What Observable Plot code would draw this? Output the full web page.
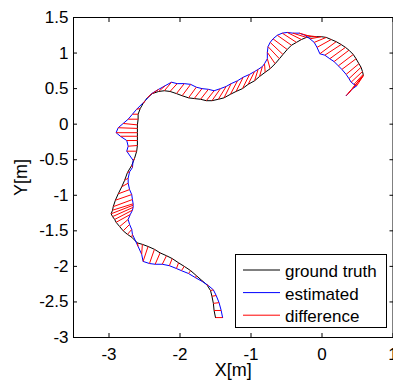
<!DOCTYPE html>
<html><head><meta charset="utf-8">
<script src="https://cdn.jsdelivr.net/npm/d3@7"></script>
<script src="https://cdn.jsdelivr.net/npm/@observablehq/plot@0.6"></script>
<style>
body{margin:0;background:#fff}
#wrap{position:relative;width:393px;height:384px;font-family:"Liberation Sans",Arial,sans-serif}
#wrap svg.legend{position:absolute;left:0;top:0}
</style>
</head><body><div id="wrap"></div>
<script>
// ground truth trajectory
const gtX = [-1.50,-1.52,-1.53,-1.55,-1.57,-1.62,-1.69,-1.77,-1.85,-1.94,
-2.02,-2.11,-2.19,-2.28,-2.36,-2.45,-2.53,-2.60,-2.68,-2.74,
-2.80,-2.85,-2.90,-2.92,-2.95,-2.97,-2.95,-2.94,-2.91,-2.87,
-2.82,-2.78,-2.74,-2.68,-2.64,-2.61,-2.60,-2.60,-2.60,-2.60,
-2.60,-2.60,-2.59,-2.59,-2.56,-2.52,-2.46,-2.39,-2.30,-2.22,
-2.14,-2.05,-1.97,-1.88,-1.80,-1.71,-1.63,-1.55,-1.46,-1.38,
-1.29,-1.21,-1.12,-1.04,-0.95,-0.88,-0.80,-0.73,-0.66,-0.60,
-0.55,-0.49,-0.43,-0.36,-0.29,-0.22,-0.15,-0.08,-0.01,0.06,
0.13,0.20,0.27,0.33,0.38,0.44,0.48,0.52,0.55,0.57,
0.58,0.58,0.58,0.58,0.58];
const gtY = [-2.72,-2.62,-2.52,-2.42,-2.34,-2.26,-2.20,-2.13,-2.06,-2.00,
-1.95,-1.89,-1.85,-1.81,-1.76,-1.72,-1.69,-1.67,-1.59,-1.55,
-1.50,-1.44,-1.38,-1.34,-1.30,-1.26,-1.21,-1.16,-1.07,-0.98,
-0.88,-0.79,-0.68,-0.58,-0.48,-0.38,-0.30,-0.23,-0.17,-0.12,
-0.06,-0.01,0.07,0.14,0.22,0.29,0.37,0.43,0.46,0.47,
0.46,0.43,0.40,0.37,0.36,0.35,0.33,0.33,0.35,0.37,
0.42,0.46,0.50,0.56,0.61,0.67,0.73,0.78,0.85,0.92,
0.98,1.05,1.11,1.15,1.19,1.22,1.23,1.23,1.23,1.22,
1.19,1.16,1.12,1.08,1.04,0.98,0.92,0.85,0.80,0.74,
0.70,0.68,0.68,0.68,0.68];
// estimated trajectory
const estX = [-1.40,-1.42,-1.45,-1.49,-1.53,-1.60,-1.69,-1.78,-1.88,-1.98,
-2.05,-2.15,-2.25,-2.35,-2.43,-2.52,-2.54,-2.59,-2.67,-2.68,
-2.71,-2.73,-2.70,-2.67,-2.66,-2.66,-2.66,-2.67,-2.68,-2.71,
-2.73,-2.73,-2.71,-2.67,-2.66,-2.75,-2.73,-2.75,-2.84,-2.90,
-2.87,-2.80,-2.73,-2.67,-2.61,-2.49,-2.40,-2.30,-2.21,-2.12,
-2.04,-1.94,-1.85,-1.77,-1.69,-1.60,-1.52,-1.43,-1.35,-1.28,
-1.19,-1.11,-1.02,-0.95,-0.90,-0.84,-0.81,-0.77,-0.77,-0.76,
-0.73,-0.69,-0.63,-0.56,-0.49,-0.41,-0.32,-0.24,-0.17,-0.11,
-0.07,-0.03,0.04,0.11,0.17,0.23,0.28,0.34,0.38,0.41,
0.45,0.49,0.42,0.37,0.34];
const estY = [-2.72,-2.62,-2.51,-2.41,-2.33,-2.27,-2.21,-2.16,-2.10,-2.06,
-2.03,-1.99,-1.97,-1.97,-1.96,-1.93,-1.83,-1.72,-1.55,-1.48,
-1.41,-1.34,-1.27,-1.21,-1.17,-1.14,-1.12,-1.06,-0.99,-0.92,
-0.83,-0.76,-0.67,-0.61,-0.51,-0.38,-0.31,-0.23,-0.17,-0.12,
-0.05,0.01,0.07,0.14,0.21,0.33,0.43,0.49,0.54,0.59,
0.57,0.57,0.56,0.52,0.50,0.49,0.47,0.50,0.53,0.57,
0.61,0.66,0.70,0.74,0.77,0.81,0.85,0.92,1.01,1.09,
1.15,1.20,1.25,1.28,1.29,1.28,1.28,1.25,1.20,1.15,
1.08,0.99,0.97,0.92,0.88,0.82,0.77,0.70,0.64,0.59,
0.56,0.54,0.49,0.43,0.40];

const xTicks = [-3,-2,-1,0,1];
const yTicks = [-3,-2.5,-2,-1.5,-1,-0.5,0,0.5,1,1.5];
const xLabel = "X[m]";
const yLabel = "Y[m]";
const legendLabels = ["ground truth","estimated","difference"];
const legendColors = ["black","blue","red"];

const gt = gtX.map((x,i)=>({x, y: gtY[i]}));
const est = estX.map((x,i)=>({x, y: estY[i]}));
const diff = gtX.map((x,i)=>({x1:x, y1:gtY[i], x2:estX[i], y2:estY[i]}));
const fmt = d => String(d);
const font = '"Liberation Sans", Arial, sans-serif';

const chart = Plot.plot({
  width:393, height:384, marginLeft:73, marginRight:0.5, marginTop:17, marginBottom:47,
  style:{fontFamily:font, fontSize:"17px", color:"black", background:"white"},
  x:{domain:[-3.5,1]}, y:{domain:[-3,1.5]},
  marks:[
    Plot.line(gt,{x:"x",y:"y",stroke:"black",strokeWidth:1}),
    Plot.line(est,{x:"x",y:"y",stroke:"blue",strokeWidth:1}),
    Plot.link(diff,{x1:"x1",y1:"y1",x2:"x2",y2:"y2",stroke:"red",strokeWidth:1}),
    Plot.axisX(xTicks,{anchor:"bottom",tickSize:-4,tickPadding:14,tickFormat:fmt,label:null,fontSize:17}),
    Plot.axisX(xTicks,{anchor:"top",tickSize:-4,tickFormat:()=>"",label:null}),
    Plot.axisY(yTicks,{anchor:"left",tickSize:-4,tickPadding:9,tickFormat:fmt,label:null,fontSize:17}),
    Plot.axisY(yTicks,{anchor:"right",tickSize:-4,tickFormat:()=>"",label:null}),
    Plot.frame({stroke:"black"}),
    Plot.text([xLabel],{text:d=>d,frameAnchor:"bottom",textAnchor:"middle",lineAnchor:"middle",dy:33,fontSize:18}),
    Plot.text([yLabel],{text:d=>d,frameAnchor:"left",textAnchor:"middle",lineAnchor:"middle",dx:-52,rotate:-90,fontSize:18})
  ]
});
const wrap = document.getElementById("wrap");
wrap.appendChild(chart);

// legend overlay
const svg = d3.select(wrap).append("svg").attr("class","legend")
  .attr("width",393).attr("height",384);
svg.append("rect").attr("x",235.5).attr("y",254.5).attr("width",151).attr("height",73)
  .attr("fill","white").attr("stroke","black");
legendLabels.forEach((lab,i)=>{
  const yy = 270 + i*22.6;
  svg.append("line").attr("x1",243).attr("x2",280).attr("y1",yy).attr("y2",yy)
    .attr("stroke",legendColors[i]).attr("stroke-width",1);
  svg.append("text").attr("x",285).attr("y",yy+7).attr("font-size",17)
    .attr("font-family",font).attr("fill","black").text(lab);
});
</script>
</body></html>
